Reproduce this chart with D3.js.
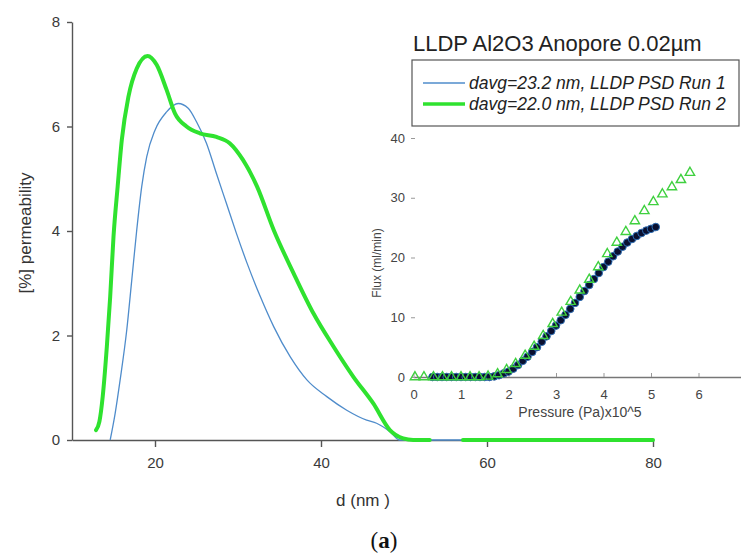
<!DOCTYPE html>
<html lang="en">
<head>
<meta charset="UTF-8">
<title>LLDP Al2O3 Anopore 0.02µm</title>
<script src="https://d3js.org/d3.v7.min.js"></script>
<style>
  body { margin: 0; background: #fff; }
  svg { font-family: "Liberation Sans", Arial, sans-serif; display: block; }
  .axis path, .axis line { stroke: #555; stroke-width: 1.4; }
  .axis text { fill: #3a3a3a; font-size: 15px; }
  .inset .axis text { font-size: 13px; fill: #444; }
  .inset .axis line { stroke: #999; stroke-width: 1; }
  .inset .axis path { stroke: #777; stroke-width: 1.3; }
</style>
</head>
<body>
<svg width="741" height="554"></svg>
<script>
// main chart: pore size distribution
const greenD = [12.9, 13.3, 13.7, 14.2, 14.6, 15.0, 15.5, 16.0, 16.8, 17.8, 19.1, 20.2, 21.4, 22.4, 23.8, 25.4, 27.4, 29.0, 30.6, 32.3, 34.3, 36.7, 39.1, 41.5, 43.9, 46.3, 48.3, 49.9, 51.1, 53.1];
const greenV = [0.19, 0.35, 0.83, 1.79, 2.74, 3.89, 4.85, 5.74, 6.57, 7.11, 7.35, 7.18, 6.70, 6.25, 6.00, 5.87, 5.80, 5.68, 5.36, 4.85, 4.02, 3.19, 2.42, 1.79, 1.21, 0.70, 0.19, 0.03, 0, 0];
const greenTailD = [57.1, 80];
const greenTailV = [0, 0];
const blueD = [14.6, 15.2, 15.8, 16.6, 17.2, 17.8, 18.4, 19.0, 20.0, 21.4, 22.8, 24.0, 25.0, 26.2, 27.4, 28.6, 29.8, 31.1, 32.7, 34.3, 36.3, 38.3, 40.7, 43.1, 45.5, 46.7, 48.3, 49.5, 80];
const blueV = [0, 0.51, 1.15, 2.11, 3.06, 4.02, 4.85, 5.42, 5.93, 6.28, 6.44, 6.35, 6.09, 5.68, 5.10, 4.53, 3.96, 3.38, 2.74, 2.17, 1.59, 1.15, 0.83, 0.57, 0.38, 0.32, 0.16, 0, 0];
const xTicks = [20, 40, 60, 80];
const yTicks = [0, 2, 4, 6, 8];

// inset: flux vs pressure
const circP = [0.4, 0.5, 0.6, 0.7, 0.8, 0.9, 1.0, 1.1, 1.2, 1.3, 1.4, 1.5, 1.6, 1.7, 1.8, 1.9, 2.0, 2.1, 2.2, 2.3, 2.4, 2.5, 2.6, 2.7, 2.8, 2.9, 3.0, 3.1, 3.2, 3.3, 3.4, 3.5, 3.6, 3.7, 3.8, 3.9, 4.0, 4.1, 4.2, 4.3, 4.4, 4.5, 4.6, 4.7, 4.8, 4.9, 5.0, 5.1];
const circF = [0, 0, 0, 0, 0, 0, 0, 0, 0, 0, 0, 0, 0, 0.1, 0.3, 0.6, 0.9, 1.4, 2.0, 2.7, 3.4, 4.2, 5.0, 5.9, 6.8, 7.7, 8.6, 9.5, 10.4, 11.4, 12.4, 13.4, 14.4, 15.4, 16.4, 17.4, 18.4, 19.3, 20.2, 21.0, 21.8, 22.5, 23.1, 23.6, 24.1, 24.5, 24.8, 25.1];
const triP = [0.03, 0.22, 0.42, 0.61, 0.80, 1.00, 1.19, 1.38, 1.57, 1.77, 1.96, 2.15, 2.35, 2.54, 2.73, 2.93, 3.12, 3.31, 3.50, 3.70, 3.89, 4.08, 4.28, 4.47, 4.66, 4.86, 5.05, 5.24, 5.44, 5.63, 5.82];
const triF = [0, 0, 0, 0, 0, 0, 0, 0, 0.1, 0.5, 1.2, 2.2, 3.6, 5.1, 6.9, 8.9, 10.8, 12.6, 14.5, 16.3, 18.4, 20.6, 22.5, 24.3, 26.1, 27.8, 29.3, 30.6, 31.8, 33.0, 34.2];
const insetXTicks = [0, 1, 2, 3, 4, 5, 6];
const insetYTicks = [0, 10, 20, 30, 40];

const legendLabels = ["davg=23.2 nm, LLDP PSD Run 1", "davg=22.0 nm, LLDP PSD Run 2"];
const GREEN = "#2fe22f", BLUE = "#4f8ccb";

const svg = d3.select("svg");
svg.append("rect").attr("width", 741).attr("height", 554).attr("fill", "#fff");

const x = d3.scaleLinear().domain([10, 80]).range([72, 653]);
const y = d3.scaleLinear().domain([0, 8]).range([440, 22]);

// axes
svg.append("g").attr("class", "axis")
    .attr("transform", "translate(0,440)")
    .call(d3.axisBottom(x).tickValues(xTicks).tickSize(7).tickSizeOuter(0).tickPadding(10));
svg.append("g").attr("class", "axis")
    .attr("transform", "translate(72,0)")
    .call(d3.axisLeft(y).tickValues(yTicks).tickSize(5).tickSizeOuter(0).tickPadding(7));

svg.append("text").attr("x", 363).attr("y", 506).attr("text-anchor", "middle")
    .attr("font-size", 17).attr("fill", "#333").text("d (nm )");
svg.append("text").attr("transform", "translate(31,233) rotate(-90)").attr("text-anchor", "middle")
    .attr("font-size", 17).attr("fill", "#333").text("[%] permeability");

const line = d3.line().x(d => x(d[0])).y(d => y(d[1])).curve(d3.curveMonotoneX);

svg.append("path").datum(blueD.map((d, i) => [d, blueV[i]]))
    .attr("d", line).attr("fill", "none").attr("stroke", BLUE).attr("stroke-width", 1.3);
svg.append("path").datum(greenD.map((d, i) => [d, greenV[i]]))
    .attr("d", line).attr("fill", "none").attr("stroke", GREEN).attr("stroke-width", 4)
    .attr("stroke-linecap", "round").attr("stroke-linejoin", "round");
svg.append("path").datum(greenTailD.map((d, i) => [d, greenTailV[i]]))
    .attr("d", line).attr("fill", "none").attr("stroke", GREEN).attr("stroke-width", 4)
    .attr("stroke-linecap", "round");

// legend
svg.append("text").attr("x", 413).attr("y", 51).attr("font-size", 22).attr("fill", "#222")
    .text("LLDP Al2O3 Anopore 0.02µm");
svg.append("rect").attr("x", 412).attr("y", 60).attr("width", 327).attr("height", 66)
    .attr("fill", "#fff").attr("stroke", "#555").attr("stroke-width", 1.2);
const leg = svg.append("g");
legendLabels.forEach((t, i) => {
    const ly = 83 + i * 21;
    leg.append("line").attr("x1", 423).attr("x2", 465).attr("y1", ly).attr("y2", ly)
        .attr("stroke", i ? GREEN : BLUE).attr("stroke-width", i ? 3.5 : 1.3);
    leg.append("text").attr("x", 469).attr("y", ly + 6).attr("font-size", 17.5)
        .attr("font-style", "italic").attr("fill", "#222").text(t);
});

// inset
const inset = svg.append("g").attr("class", "inset");
const ix = d3.scaleLinear().domain([0, 7]).range([413.5, 746]);
const iy = d3.scaleLinear().domain([0, 40]).range([377, 138]);

inset.append("g").attr("class", "axis")
    .attr("transform", "translate(0,377)")
    .call(d3.axisBottom(ix).tickValues(insetXTicks).tickFormat(d3.format("d"))
        .tickSizeInner(-4).tickSizeOuter(0).tickPadding(13));
inset.append("g").attr("class", "axis")
    .attr("transform", "translate(415,0)")
    .call(d3.axisLeft(iy).tickValues(insetYTicks).tickSize(4).tickPadding(6))
    .call(g => g.select(".domain").remove());

inset.append("text").attr("x", 580).attr("y", 417).attr("text-anchor", "middle")
    .attr("font-size", 14).attr("fill", "#444").text("Pressure (Pa)x10^5");
inset.append("text").attr("transform", "translate(381,263) rotate(-90)").attr("text-anchor", "middle")
    .attr("font-size", 12).attr("fill", "#444").text("Flux (ml/min)");

inset.selectAll("circle.run1").data(circP.map((p, i) => [p, circF[i]]))
    .join("circle").attr("class", "run1")
    .attr("cx", d => ix(d[0])).attr("cy", d => iy(d[1])).attr("r", 3.8)
    .attr("fill", "#0a1030").attr("stroke", "#2e6db3").attr("stroke-width", 1);

const tri = d3.symbol().type(d3.symbolTriangle).size(38);
inset.selectAll("path.run2").data(triP.map((p, i) => [p, triF[i]]))
    .join("path").attr("class", "run2")
    .attr("d", tri)
    .attr("transform", d => `translate(${ix(d[0])},${iy(d[1])})`)
    .attr("fill", "none").attr("stroke", "#3fd03f").attr("stroke-width", 1.4);

// panel label
const lab = svg.append("text").attr("x", 384).attr("y", 548).attr("text-anchor", "middle")
    .attr("font-family", "'Liberation Serif', 'Times New Roman', serif").attr("font-size", 23).attr("fill", "#111");
lab.append("tspan").text("(");
lab.append("tspan").attr("font-weight", "bold").text("a");
lab.append("tspan").text(")");
</script>
</body>
</html>
